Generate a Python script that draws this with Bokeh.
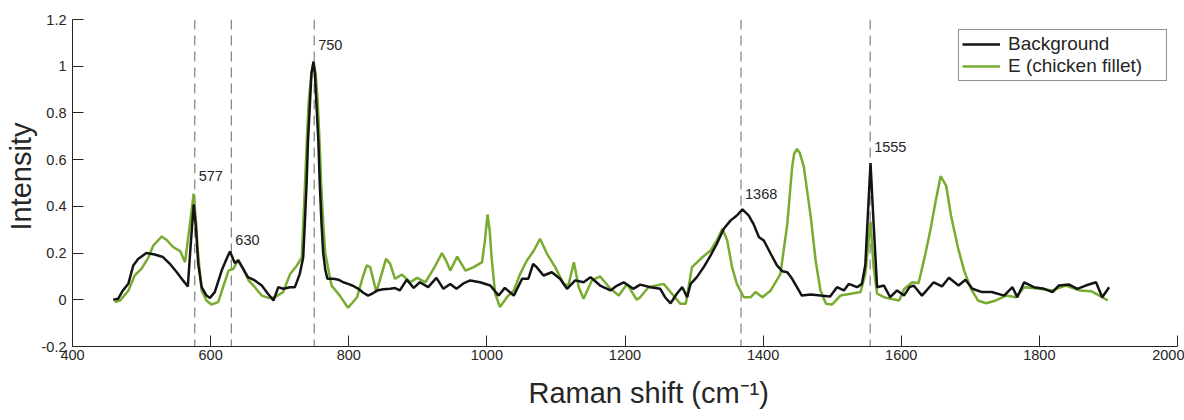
from bokeh.plotting import figure
from bokeh.models import (Span, Legend, LegendItem, FixedTicker, CustomJSTickFormatter,
                          Title, ColumnDataSource, Range1d)
from bokeh.core.properties import value
from bokeh.embed import file_html
from bokeh.resources import INLINE

# ---------------- data ----------------
bg_x = [459, 466, 473, 481, 488, 495, 507, 519, 531, 541, 551, 560, 567, 571, 575.5, 579, 582, 587,
        594, 599, 606, 616, 623, 628, 635, 640, 647, 654, 664, 674, 683, 691, 698, 705, 715, 722,
        729, 734, 736, 739, 741, 744, 746, 749, 751, 753, 756, 758, 760.5, 763, 766, 769, 778, 785,
        792, 799, 806, 814, 821, 828, 834, 841, 850, 860, 867, 874, 884, 894, 903, 915, 927, 937,
        947, 956, 966, 976, 990, 1005, 1017, 1026, 1039, 1051, 1060, 1067, 1072, 1082, 1094, 1106,
        1116, 1128, 1140, 1150, 1164, 1179, 1188, 1198, 1212, 1222, 1237, 1251, 1258, 1266, 1275,
        1283, 1290, 1295, 1304, 1314, 1324, 1333, 1343, 1353, 1362, 1370, 1379, 1386, 1394, 1401,
        1411, 1420, 1428, 1435, 1442, 1449, 1456, 1469, 1483, 1497, 1507, 1517, 1524, 1536, 1543,
        1548, 1551, 1555.5, 1560, 1565, 1575, 1584, 1594, 1604, 1612, 1618, 1630, 1647, 1659, 1669,
        1683, 1693, 1703, 1717, 1731, 1749, 1761, 1768, 1778, 1792, 1807, 1819, 1828, 1843, 1855,
        1867, 1882, 1891, 1901]
bg_y = [0.0, 0.004, 0.04, 0.07, 0.147, 0.175, 0.2, 0.194, 0.183, 0.154, 0.118, 0.083, 0.057, 0.23,
        0.408, 0.3, 0.154, 0.054, 0.018, 0.008, 0.033, 0.125, 0.175, 0.207, 0.157, 0.168, 0.133,
        0.097, 0.083, 0.061, 0.026, -0.003, 0.054, 0.047, 0.054, 0.054, 0.11, 0.18, 0.3, 0.5, 0.68,
        0.85, 0.97, 1.02, 0.97, 0.85, 0.68, 0.5, 0.33, 0.2, 0.13, 0.09, 0.09, 0.086, 0.075, 0.068,
        0.06, 0.047, 0.03, 0.018, 0.026, 0.04, 0.045, 0.047, 0.05, 0.04, 0.086, 0.051, 0.075, 0.054,
        0.094, 0.047, 0.068, 0.047, 0.07, 0.083, 0.075, 0.061, 0.018, 0.051, 0.018, 0.09, 0.09,
        0.154, 0.14, 0.104, 0.118, 0.09, 0.047, 0.083, 0.075, 0.097, 0.061, 0.04, 0.06, 0.075,
        0.047, 0.065, 0.054, 0.047, 0.011, -0.015, 0.026, 0.054, 0.011, 0.068, 0.097, 0.14, 0.19,
        0.24, 0.304, 0.34, 0.361, 0.387, 0.361, 0.325, 0.268, 0.254, 0.197, 0.147, 0.122, 0.118,
        0.09, 0.054, 0.018, 0.023, 0.018, 0.014, 0.054, 0.04, 0.068, 0.054, 0.068, 0.15, 0.325,
        0.585, 0.325, 0.054, 0.061, 0.011, 0.04, 0.018, 0.054, 0.061, 0.018, 0.075, 0.057, 0.094,
        0.061, 0.086, 0.047, 0.033, 0.033, 0.018, 0.054, 0.011, 0.075, 0.054, 0.047, 0.033, 0.061,
        0.065, 0.047, 0.061, 0.075, 0.011, 0.054]

ch_x = [461, 469, 481, 490, 500, 510, 517, 529, 536, 546, 556, 563, 569, 575.5, 579, 581, 587, 594,
        601, 611, 618, 626, 633, 640, 647, 655, 664, 674, 684, 693, 705, 715, 725, 732, 736, 739,
        742, 746, 749, 752, 755, 758, 760, 763, 766, 775, 787, 799, 812, 821, 826, 831, 840, 845,
        854, 860, 867, 877, 889, 899, 911, 923, 935, 942, 947, 957, 969, 981, 993, 997, 1001, 1004,
        1007, 1012, 1019, 1029, 1039, 1048, 1058, 1068, 1077, 1087, 1099, 1111, 1118, 1126, 1133,
        1140, 1152, 1164, 1179, 1191, 1203, 1217, 1222, 1234, 1256, 1268, 1280, 1288, 1297, 1312,
        1324, 1333, 1341, 1348, 1355, 1362, 1372, 1382, 1389, 1399, 1411, 1425, 1435, 1442, 1445,
        1449, 1453, 1459, 1469, 1476, 1483, 1491, 1500, 1512, 1527, 1541, 1548, 1555.5, 1560, 1565,
        1575, 1585, 1597, 1604, 1616, 1625, 1635, 1643, 1650, 1657, 1665, 1672, 1682, 1691, 1701,
        1711, 1723, 1737, 1752, 1766, 1778, 1800, 1819, 1838, 1858, 1875, 1887, 1899]
ch_y = [-0.01, -0.003, 0.04, 0.104, 0.133, 0.182, 0.232, 0.271, 0.257, 0.225, 0.208, 0.161, 0.3,
        0.454, 0.33, 0.225, 0.04, -0.003, -0.02, -0.01, 0.054, 0.125, 0.133, 0.172, 0.133, 0.083,
        0.054, 0.018, 0.008, 0.011, 0.033, 0.11, 0.147, 0.182, 0.45, 0.66, 0.85, 0.97, 1.01, 0.97,
        0.85, 0.66, 0.5, 0.33, 0.2, 0.061, 0.018, -0.034, 0.011, 0.104, 0.147, 0.14, 0.033, 0.083,
        0.175, 0.154, 0.09, 0.108, 0.075, 0.094, 0.075, 0.133, 0.2, 0.161, 0.125, 0.185, 0.125,
        0.14, 0.161, 0.25, 0.365, 0.3, 0.175, 0.026, -0.031, 0.011, 0.04, 0.11, 0.168, 0.211, 0.261,
        0.197, 0.14, 0.068, 0.061, 0.161, 0.054, 0.004, 0.083, 0.1, 0.047, 0.018, 0.068, 0.0, 0.011,
        0.054, 0.068, 0.026, -0.017, -0.017, 0.14, 0.182, 0.211, 0.254, 0.304, 0.254, 0.14, 0.068,
        0.011, 0.011, 0.033, 0.011, 0.04, 0.11, 0.325, 0.568, 0.625, 0.646, 0.63, 0.568, 0.354,
        0.168, 0.04, -0.017, -0.02, 0.018, 0.026, 0.033, 0.11, 0.335, 0.14, 0.026, 0.011, 0.004,
        -0.003, 0.045, 0.075, 0.071, 0.197, 0.311, 0.425, 0.529, 0.489, 0.361, 0.225, 0.125, 0.047,
        -0.003, -0.015, -0.003, 0.018, 0.011, 0.054, 0.047, 0.04, 0.061, 0.04, 0.037, 0.018, -0.003]

peaks = [577, 630, 750, 1368, 1555]
peak_label_y = [0.528, 0.258, 1.089, 0.453, 0.652]
peak_labels = ["577", "630", "750", "1368", "1555"]

x_ticks = [400, 600, 800, 1000, 1200, 1400, 1600, 1800, 2000]
y_ticks = [-0.2, 0, 0.2, 0.4, 0.6, 0.8, 1.0, 1.2]

# ---------------- figure ----------------
FONT = "Liberation Sans"
TXT = "#262626"
GREEN = "#77AC30"

p = figure(width=1184, height=420, x_range=Range1d(400, 2000), y_range=Range1d(-0.2, 1.2),
           output_backend="svg", toolbar_location=None,
           min_border_left=72, min_border_right=7, min_border_top=19, min_border_bottom=74)
p.grid.visible = False
p.outline_line_color = None
p.background_fill_color = "white"
p.border_fill_color = "white"

for ax in (p.xaxis[0], p.yaxis[0]):
    ax.axis_line_color = TXT
    ax.axis_line_width = 1
    ax.major_tick_line_color = TXT
    ax.major_tick_in = 11
    ax.major_tick_out = 0
    ax.minor_tick_line_color = None
    ax.major_label_text_font = FONT
    ax.major_label_text_font_size = "14.5px"
    ax.major_label_text_color = TXT

p.xaxis.ticker = FixedTicker(ticks=x_ticks)
p.yaxis.ticker = FixedTicker(ticks=y_ticks)
p.yaxis.formatter = CustomJSTickFormatter(code="return (Math.round(tick*10)/10).toString();")
p.xaxis.major_label_standoff = 3
p.yaxis.major_label_standoff = 6

# axis titles (as titles, so they can be placed like the reference)
xt = Title(text="Raman shift (cm\u207b\u00b9)", align="left", offset=456,
           text_font=FONT, text_font_size="29px", text_font_style="normal",
           text_color=TXT, standoff=24)
p.add_layout(xt, "below")
yt = Title(text="Intensity", align="left", offset=116,
           text_font=FONT, text_font_size="29px", text_font_style="normal",
           text_color=TXT, standoff=4)
p.add_layout(yt, "left")

# dashed marker lines
for v in peaks:
    p.add_layout(Span(location=v, dimension="height", line_color="#8a8a8a",
                      line_dash="10 6", line_width=1.3, level="underlay"))

rg = p.line(ch_x, ch_y, line_color=GREEN, line_width=2.5)
rb = p.line(bg_x, bg_y, line_color="#141414", line_width=2.5)

src = ColumnDataSource(dict(x=peaks, y=peak_label_y, t=peak_labels))
p.text(x="x", y="y", text="t", source=src, x_offset=4, text_baseline="middle",
       text_align="left", text_font=value(FONT), text_font_size=value("14.5px"),
       text_color=TXT)

legend = Legend(items=[LegendItem(label="Background", renderers=[rb]),
                       LegendItem(label="E (chicken fillet)", renderers=[rg])],
                location="top_right")
legend.margin = 10
legend.padding = 3
legend.spacing = 0
legend.label_height = 18
legend.glyph_height = 18
legend.glyph_width = 38
legend.label_standoff = 8
legend.label_width = 155
legend.label_text_font = FONT
legend.label_text_font_size = "19px"
legend.label_text_color = TXT
legend.border_line_color = TXT
legend.border_line_width = 1
legend.background_fill_color = "white"
legend.background_fill_alpha = 1
p.add_layout(legend)

open("out.html", "w").write(file_html(p, INLINE))
